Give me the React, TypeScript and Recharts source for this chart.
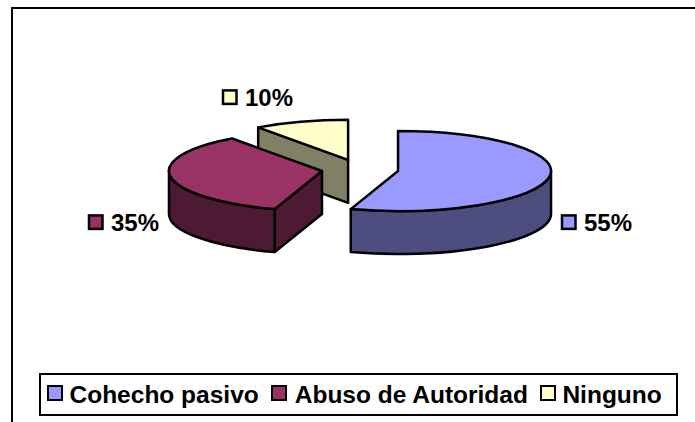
import React from "react";
import { PieChart, Pie, Legend } from "recharts";

const categories = ["Cohecho pasivo", "Abuso de Autoridad", "Ninguno"];
const shares = [55, 35, 10];
const topColors = ["#9999FF", "#993366", "#FFFFCC"];
const sideColors = ["#4D4D80", "#4D1A33", "#808066"];

// Ninguno sits behind the others, so it is painted first
const paintOrder = [2, 0, 1];
const pieData = paintOrder.map((i) => ({
  name: categories[i],
  value: shares[i],
  index: i,
}));

const FONT = '"Liberation Sans", Arial, sans-serif';
const TILT = 0.262; // vertical squash of the disc
const DEPTH = 43; // height of the wall
const EXPLODE = 38.5;
const START_ANGLE = 126; // the first painted slice begins at 324deg clockwise from 12
const LINE = 2.5;

// label anchors relative to pie centre: left of the key, centre line of the text
const labelOffsets = [
  { dx: 202, dy: 53 },
  { dx: -271, dy: 53 },
  { dx: -137, dy: -72 },
];

const rad = (deg: number) => (deg * Math.PI) / 180;

const Slice3D = (props: any) => {
  const { cx, cy, outerRadius: r, startAngle, endAngle, midAngle } = props;
  const idx = props.payload?.index ?? props.index;
  const top = topColors[idx];
  const side = sideColors[idx];

  const ox = cx + EXPLODE * Math.cos(rad(midAngle));
  const oy = cy - EXPLODE * TILT * Math.sin(rad(midAngle));
  const ry = r * TILT;
  const pt = (a: number, drop = 0) => ({
    x: ox + r * Math.cos(rad(a)),
    y: oy - ry * Math.sin(rad(a)) + drop,
  });
  const s = pt(startAngle);
  const e = pt(endAngle);
  const large = Math.abs(startAngle - endAngle) > 180 ? 1 : 0;
  const common = { stroke: "#000", strokeWidth: LINE, strokeLinejoin: "round" as const };

  // a cut face shows when its outward normal points down the screen
  const face = (a: number, normal: number) => {
    if (Math.sin(rad(normal)) >= -0.01) return null;
    const p = pt(a);
    const q = pt(a, DEPTH);
    return (
      <path
        d={`M${ox},${oy}L${p.x},${p.y}L${q.x},${q.y}L${ox},${oy + DEPTH}Z`}
        fill={side}
        {...common}
      />
    );
  };

  // outer wall: only the part of the rim on the front half (angles -180..0)
  let wall = null;
  const wallStart = Math.min(startAngle, 0);
  const wallEnd = Math.max(endAngle, -180);
  if (wallStart > wallEnd) {
    const a = pt(wallStart);
    const b = pt(wallEnd);
    const c = pt(wallEnd, DEPTH);
    const d = pt(wallStart, DEPTH);
    wall = (
      <path
        d={`M${a.x},${a.y}A${r},${ry} 0 0 1 ${b.x},${b.y}L${c.x},${c.y}A${r},${ry} 0 0 0 ${d.x},${d.y}Z`}
        fill={side}
        {...common}
      />
    );
  }

  return (
    <g>
      {face(startAngle, startAngle + 90)}
      {face(endAngle, endAngle - 90)}
      {wall}
      <path
        d={`M${ox},${oy}L${s.x},${s.y}A${r},${ry} 0 ${large} 1 ${e.x},${e.y}Z`}
        fill={top}
        {...common}
      />
    </g>
  );
};

const PercentLabel = (props: any) => {
  const { cx, cy, payload } = props;
  const idx = payload?.index ?? props.index;
  const off = labelOffsets[idx];
  const x = cx + off.dx;
  const y = cy + off.dy;
  return (
    <g>
      <rect x={x} y={y - 7} width={13.5} height={13.5} fill={topColors[idx]} stroke="#000" strokeWidth={LINE} />
      <text
        x={x + 22}
        y={y + 9}
        fontFamily={FONT}
        fontWeight="bold"
        fontSize={24}
        fill="#000"
      >
        {shares[idx]}%
      </text>
    </g>
  );
};

const keyLefts = [0, 12.3, 12];
const keyRights = [6.5, 7.7, 6.5];

const LegendBox = () => (
  <div
    style={{
      boxSizing: "border-box",
      width: 639,
      height: 43,
      border: `${LINE}px solid #000`,
      background: "#fff",
      display: "flex",
      alignItems: "center",
      paddingLeft: 6,
      fontFamily: FONT,
      fontWeight: "bold",
      fontSize: 24.5,
      color: "#000",
      whiteSpace: "nowrap",
    }}
  >
    {categories.map((name, i) => (
      <React.Fragment key={name}>
        <span
          style={{
            boxSizing: "border-box",
            flex: "none",
            width: 16,
            height: 16,
            marginLeft: keyLefts[i],
            marginRight: keyRights[i],
            marginTop: -3,
            border: `${LINE}px solid #000`,
            background: topColors[i],
          }}
        />
        <span style={{ flex: "none" }}>{name}</span>
      </React.Fragment>
    ))}
  </div>
);

export default function App() {
  return (
    <div style={{ position: "absolute", left: 0, top: 0, width: 695, height: 422, overflow: "hidden", background: "#fff" }}>
      <div
        style={{
          position: "absolute",
          left: 11,
          top: 7,
          width: 700,
          height: 430,
          borderLeft: `${LINE}px solid #000`,
          borderTop: `${LINE}px solid #000`,
        }}
      />
      <PieChart width={695} height={422} margin={{ top: 0, right: 0, bottom: 0, left: 0 }} style={{ position: "absolute", left: 0, top: 0 }}>
        <Pie
          data={pieData}
          dataKey="value"
          nameKey="name"
          cx={360}
          cy={169.4}
          outerRadius={153}
          startAngle={START_ANGLE}
          endAngle={START_ANGLE - 360}
          shape={Slice3D}
          label={PercentLabel}
          labelLine={false}
          isAnimationActive={false}
        />
        <Legend
          content={LegendBox}
          wrapperStyle={{ position: "absolute", left: 39, top: 373, bottom: "auto", width: 639 }}
        />
      </PieChart>
    </div>
  );
}
